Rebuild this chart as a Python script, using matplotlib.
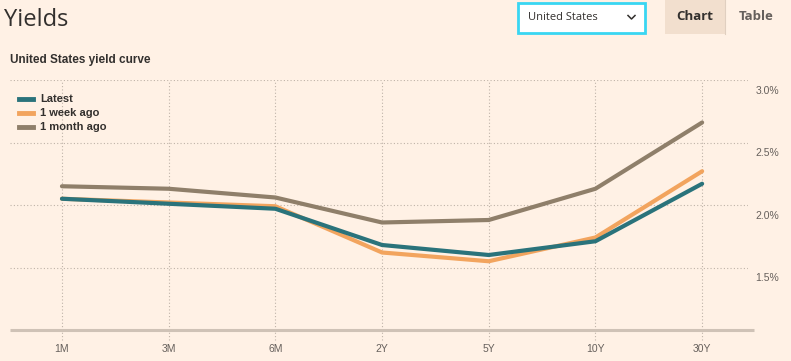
import matplotlib
matplotlib.use("Agg")
import matplotlib.pyplot as plt
from matplotlib.patches import Rectangle

categories = ["1M", "3M", "6M", "2Y", "5Y", "10Y", "30Y"]
latest = [2.05, 2.01, 1.97, 1.68, 1.60, 1.71, 2.17]
week_ago = [2.05, 2.02, 1.99, 1.62, 1.55, 1.74, 2.27]
month_ago = [2.15, 2.13, 2.06, 1.86, 1.88, 2.13, 2.66]
series_names = ["Latest", "1 week ago", "1 month ago"]
series_colors = ["#2a737b", "#f2a45e", "#8f7f6a"]
y_ticks = [1.5, 2.0, 2.5, 3.0]
y_tick_labels = ["1.5%", "2.0%", "2.5%", "3.0%"]

BG = "#fff1e5"
W, H = 791, 361
fig = plt.figure(figsize=(W / 100, H / 100), dpi=100, facecolor=BG)

def fx(px):
    return px / W

def fy(py):
    return 1 - py / H

ax = fig.add_axes([fx(10), fy(330), fx(748) - fx(10), fy(80) - fy(330)])
ax.set_facecolor(BG)
x = list(range(len(categories)))
xmin, xmax = -0.487, 6.43
ax.set_xlim(xmin, xmax)
ax.set_ylim(1.0, 3.0)

for s in ax.spines.values():
    s.set_visible(False)
ax.plot([xmin, xmax + 0.06], [1.0, 1.0], color="#cfc2b6", lw=2.2, zorder=2,
        clip_on=False, solid_capstyle="butt")
for yt in y_ticks:
    ax.axhline(yt, color="#bfb3a8", lw=0.8, ls=(0, (1, 2)), zorder=1)
for xi in x:
    ax.plot([xi, xi], [0.92, 3.0], color="#bfb3a8", lw=0.8, ls=(0, (1, 2)),
            zorder=1, clip_on=False)

ax.set_xticks(x)
ax.set_xticklabels(categories, fontsize=7.5, color="#66605c", family="Liberation Sans")
ax.tick_params(axis="x", length=0, pad=10)
ax.set_yticks([])

for yt, lab in zip(y_ticks, y_tick_labels):
    ax.annotate(lab, xy=(1.0, yt), xycoords=("axes fraction", "data"),
                xytext=(5.5, -4), textcoords="offset points", ha="left", va="top",
                fontsize=7.5, color="#66605c", family="Liberation Sans")

ax.plot(x, month_ago, color=series_colors[2], lw=3.0, zorder=3, solid_capstyle="round")
ax.plot(x, week_ago, color=series_colors[1], lw=3.0, zorder=4, solid_capstyle="round")
ax.plot(x, latest, color=series_colors[0], lw=3.0, zorder=5, solid_capstyle="round")

# legend
for i, (name, c) in enumerate(zip(series_names, series_colors)):
    yy = 99 + i * 14
    fig.add_artist(plt.Line2D([fx(19), fx(33)], [fy(yy), fy(yy)], color=c, lw=3.5))
    fig.text(fx(40), fy(yy), name, fontsize=8, fontweight="bold", color="#33302e",
             va="center", ha="left", family="Liberation Sans")

# headers
fig.text(fx(4), fy(20), "Yields", fontsize=17, color="#33302e", va="center",
         ha="left", family="Open Sans")
fig.text(fx(10), fy(60), "United States yield curve", fontsize=8.5, fontweight="bold",
         color="#33302e", va="center", ha="left", family="Liberation Sans")

# dropdown
fig.add_artist(Rectangle((fx(518), fy(33)), fx(127), fy(3) - fy(33), facecolor="white",
                         edgecolor="#39d6f2", lw=2))
fig.text(fx(528), fy(18), "United States", fontsize=8, color="#33302e", va="center",
         ha="left", family="Open Sans")
fig.add_artist(plt.Line2D([fx(628), fx(631.5), fx(635)], [fy(15.5), fy(19), fy(15.5)],
                          color="#33302e", lw=1.1))

# tabs
fig.add_artist(Rectangle((fx(665), fy(34)), fx(60), fy(0) - fy(34), facecolor="#f2dfce",
                         edgecolor="none"))
fig.add_artist(plt.Line2D([fx(725), fx(725)], [fy(34), fy(0)], color="#e0cfc0", lw=0.8))
fig.text(fx(695), fy(17), "Chart", fontsize=9.5, fontweight="bold", color="#33302e",
         va="center", ha="center", family="Open Sans")
fig.text(fx(756), fy(17), "Table", fontsize=9.5, fontweight="bold", color="#66605c",
         va="center", ha="center", family="Open Sans")

fig.savefig("out.png", dpi=100, facecolor=BG)
